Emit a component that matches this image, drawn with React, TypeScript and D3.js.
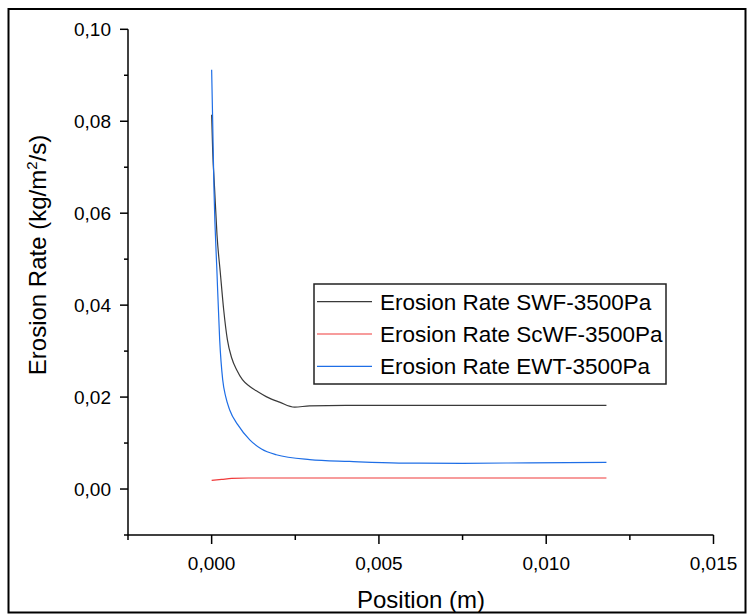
import React from "react";
import * as d3 from "d3";

const xTicks = [0, 0.005, 0.01, 0.015];
const xMinorTicks = [-0.0025, 0.0025, 0.0075, 0.0125];
const yTicks = [0, 0.02, 0.04, 0.06, 0.08, 0.1];
const yMinorTicks = [-0.01, 0.01, 0.03, 0.05, 0.07, 0.09];

const swfX = [0, 0.00003, 0.00009, 0.00016, 0.00026, 0.00036, 0.00047, 0.0006, 0.00075, 0.00092, 0.00114, 0.00137, 0.00163, 0.00203, 0.00248, 0.00293, 0.004, 0.006, 0.008, 0.01, 0.0118];
const swfY = [0.0814, 0.0738, 0.0651, 0.0553, 0.047, 0.039, 0.0325, 0.0285, 0.0259, 0.0238, 0.0223, 0.0212, 0.0201, 0.0189, 0.0178, 0.0181, 0.0182, 0.0182, 0.0182, 0.0182, 0.0182];

const scwfX = [0, 0.0003, 0.0006, 0.0011, 0.002, 0.004, 0.006, 0.008, 0.01, 0.0118];
const scwfY = [0.0019, 0.0021, 0.0023, 0.0024, 0.0024, 0.0024, 0.0024, 0.0024, 0.0024, 0.0024];

const ewtX = [0, 0.00003, 0.00007, 0.00016, 0.00024, 0.00033, 0.00042, 0.00054, 0.00078, 0.00114, 0.00149, 0.00193, 0.00293, 0.00412, 0.0056, 0.0075, 0.0095, 0.0118];
const ewtY = [0.0912, 0.0803, 0.0651, 0.047, 0.0325, 0.0238, 0.0201, 0.0172, 0.014, 0.0107, 0.0087, 0.00746, 0.0064, 0.006, 0.00565, 0.0056, 0.0057, 0.0058];

const seriesNames = ["Erosion Rate SWF-3500Pa", "Erosion Rate ScWF-3500Pa", "Erosion Rate EWT-3500Pa"];
const seriesColors = ["#3a3a3a", "#f03a3a", "#1e6ee6"];

const fmt = (v: number, d: number) => v.toFixed(d).replace(".", ",");

export default function App() {
  const x = d3.scaleLinear().domain([-0.0025, 0.015]).range([128, 713.5]);
  const y = d3.scaleLinear().domain([-0.01, 0.1]).range([535, 29.3]);
  const line = d3
    .line<[number, number]>()
    .x((d) => x(d[0]))
    .y((d) => y(d[1]))
    .curve(d3.curveMonotoneX);
  const series = [
    swfX.map((v, i) => [v, swfY[i]] as [number, number]),
    scwfX.map((v, i) => [v, scwfY[i]] as [number, number]),
    ewtX.map((v, i) => [v, ewtY[i]] as [number, number]),
  ];
  const font = "'Liberation Sans', Arial, sans-serif";
  const legX = 314;
  const legY = 284;
  return (
    <svg
      width={749}
      height={614}
      style={{ position: "absolute", left: 0, top: 0, background: "#fff" }}
      fontFamily={font}
    >
      <rect x={8.5} y={9} width={737} height={603.5} fill="none" stroke="#000" strokeWidth={2} />
      <line x1={x(-0.0025)} x2={x(0.015)} y1={y(-0.01)} y2={y(-0.01)} stroke="#000" strokeWidth={1.5} />
      <line x1={x(-0.0025)} x2={x(-0.0025)} y1={y(-0.01)} y2={y(0.1)} stroke="#000" strokeWidth={1.5} />
      {xTicks.map((t) => (
        <g key={"xt" + t}>
          <line x1={x(t)} x2={x(t)} y1={y(-0.01)} y2={y(-0.01) + 9} stroke="#000" strokeWidth={1.5} />
          <text x={x(t)} y={570} textAnchor="middle" fontSize={19}>
            {fmt(t, 3)}
          </text>
        </g>
      ))}
      {xMinorTicks.map((t) => (
        <line key={"xm" + t} x1={x(t)} x2={x(t)} y1={y(-0.01)} y2={y(-0.01) + 5} stroke="#000" strokeWidth={1.5} />
      ))}
      {yTicks.map((t) => (
        <g key={"yt" + t}>
          <line x1={x(-0.0025) - 8} x2={x(-0.0025)} y1={y(t)} y2={y(t)} stroke="#000" strokeWidth={1.5} />
          <text x={111} y={y(t) + 7} textAnchor="end" fontSize={19}>
            {fmt(t, 2)}
          </text>
        </g>
      ))}
      {yMinorTicks.map((t) => (
        <line key={"ym" + t} x1={x(-0.0025) - 4} x2={x(-0.0025)} y1={y(t)} y2={y(t)} stroke="#000" strokeWidth={1.5} />
      ))}
      <text x={421} y={608} textAnchor="middle" fontSize={24}>
        Position (m)
      </text>
      <text transform="translate(46,255) rotate(-90)" textAnchor="middle" fontSize={24}>
        Erosion Rate (kg/m<tspan dy={-9} fontSize={15}>2</tspan>
        <tspan dy={9}>/s)</tspan>
      </text>
      {series.map((s, i) => (
        <path key={"s" + i} d={line(s) || ""} fill="none" stroke={seriesColors[i]} strokeWidth={1.2} />
      ))}
      <rect x={legX} y={legY} width={352} height={100} fill="#fff" stroke="#222" strokeWidth={1.5} />
      {seriesNames.map((n, i) => (
        <g key={"l" + i}>
          <line x1={317} x2={372} y1={301.7 + i * 32.3} y2={301.7 + i * 32.3} stroke={seriesColors[i]} strokeWidth={1.2} />
          <text x={380} y={301.7 + i * 32.3 + 8} fontSize={22.5}>
            {n}
          </text>
        </g>
      ))}
    </svg>
  );
}
